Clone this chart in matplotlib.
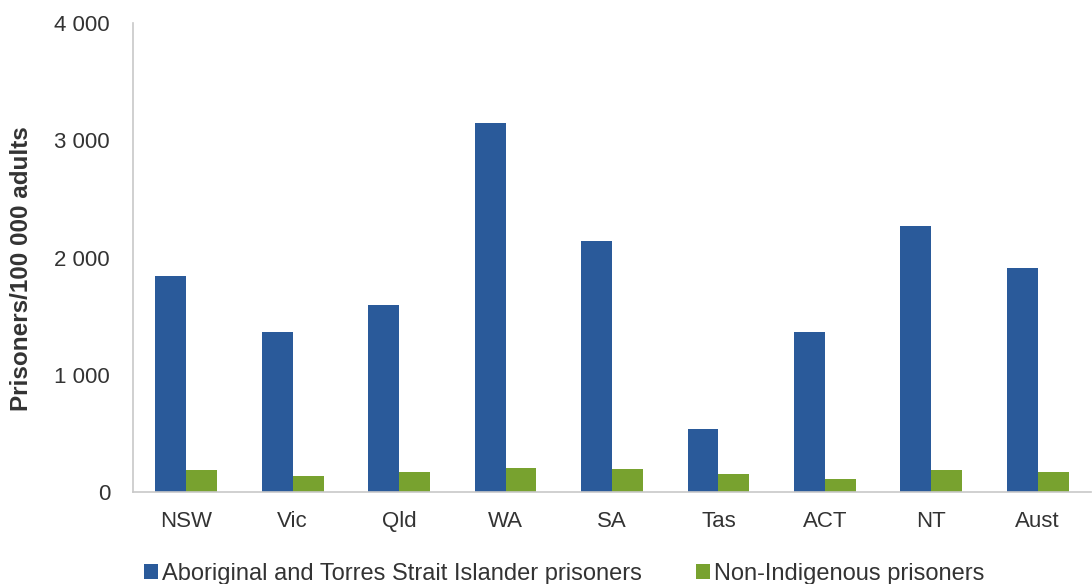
import numpy as np
import matplotlib
matplotlib.use('Agg')
import matplotlib.pyplot as plt

plt.rcParams['font.family'] = ['Liberation Sans', 'DejaVu Sans']

states = ['NSW', 'Vic', 'Qld', 'WA', 'SA', 'Tas', 'ACT', 'NT', 'Aust']
indigenous = [1843, 1364, 1595, 3148, 2143, 539, 1364, 2266, 1909]
non_indigenous = [186, 140, 171, 208, 197, 157, 114, 186, 171]
yticks = [0, 1000, 2000, 3000, 4000]
ytick_labels = ['0', '1 000', '2 000', '3 000', '4 000']

blue = '#2a5a9a'
green = '#78a22f'
txt = '#333333'

fig = plt.figure(figsize=(10.92, 5.84), dpi=100)
ax = fig.add_axes([0.1218, 0.1575, 0.8772, 0.803])

x = np.arange(len(states))
w = 0.29
ax.bar(x - w/2, indigenous, width=w, color=blue,
       label='Aboriginal and Torres Strait Islander prisoners')
ax.bar(x + w/2, non_indigenous, width=w, color=green,
       label='Non-Indigenous prisoners')

ax.set_xlim(-0.5, len(states) - 0.5)
ax.set_ylim(0, 4000)
ax.set_yticks(yticks)
ax.set_yticklabels(ytick_labels)
ax.set_xticks(x)
ax.set_xticklabels(states)
ax.tick_params(length=0, labelsize=16, colors=txt)
ax.tick_params(axis='y', pad=16.5)
ax.tick_params(axis='x', pad=14)

for s in ['top', 'right']:
    ax.spines[s].set_visible(False)
for s in ['left', 'bottom']:
    ax.spines[s].set_color('#c8c8c8')
    ax.spines[s].set_linewidth(1.2)

fig.text(0.02, 0.54, 'Prisoners/100 000 adults', rotation=90, ha='center',
         va='center', fontsize=17.5, fontweight='bold', color=txt)

fig.legend(loc='lower left', bbox_to_anchor=(0.117, -0.03), ncol=2,
           frameon=False, fontsize=17, handlelength=0.6, handleheight=0.6,
           handletextpad=0.15, columnspacing=2.3, borderpad=0.2,
           labelcolor=txt)

fig.savefig('out.png', dpi=100)
